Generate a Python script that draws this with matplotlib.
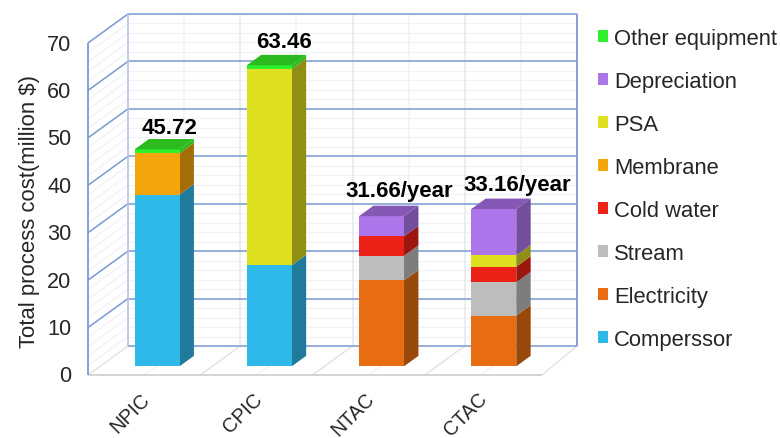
import matplotlib
matplotlib.use('Agg')
import matplotlib.pyplot as plt
from matplotlib.patches import Polygon, Patch
from matplotlib.transforms import ScaledTranslation
import numpy as np

plt.rcParams['font.family'] = ['Liberation Sans', 'DejaVu Sans']

cases = ['NPIC', 'CPIC', 'NTAC', 'CTAC']
compressor = [36.2, 21.3, 0, 0]
electricity = [0, 0, 18.1, 10.7]
stream = [0, 0, 5.2, 7.0]
cold_water = [0, 0, 4.1, 3.3]
membrane = [8.7, 0, 0, 0]
psa = [0, 41.4, 0, 2.4]
depreciation = [0, 0, 4.26, 9.76]
other = [0.82, 0.76, 0, 0]
bar_labels = ['45.72', '63.46', '31.66/year', '33.16/year']
# nudges of the total labels from the back top edge of the box, in pixels
label_dx = [-2, 0, 3, 9]
label_dy = [11, 13, 15, 14]

# bottom to top of the stack: name, values, front, side
stack = [
    ('Comperssor', compressor, '#2FB8EA', '#1F7A9C'),
    ('Electricity', electricity, '#E86C12', '#99480C'),
    ('Stream', stream, '#BDBDBD', '#7D7D7D'),
    ('Cold water', cold_water, '#EC2218', '#9C1610'),
    ('Membrane', membrane, '#F5A60D', '#A36E08'),
    ('PSA', psa, '#DFE020', '#8F8F15'),
    ('Depreciation', depreciation, '#AD75EA', '#734E9C'),
    ('Other equipment', other, '#2EF02E', '#2BBB1F'),
]
top_colors = {'Other equipment': '#2BBB1F', 'Depreciation': '#8558B5'}
legend_order = ['Other equipment', 'Depreciation', 'PSA', 'Membrane',
                'Cold water', 'Stream', 'Electricity', 'Comperssor']

W, H = 780, 439
fig = plt.figure(figsize=(W / 100, H / 100), dpi=100)
ax = fig.add_axes([88 / W, 1 - 376 / H, 449 / W, (376 - 44) / H])
ax.set_xlim(-0.5, 3.5)
ax.set_ylim(0, 70)

# depth of the floor in data units
cat_px = 449 / 4
depth_x = 40 / cat_px
depth_y = 29 / 4.743


def pr(x, y, d=0.0):
    return (x + d * depth_x, y + d * depth_y)


def line(p0, p1, color, lw=1.0, z=1):
    ax.plot([p0[0], p1[0]], [p0[1], p1[1]], color=color, lw=lw, zorder=z,
            clip_on=False, solid_capstyle='butt')


blue = '#7C9AD2'
faint = '#F1F2F5'
x0, x1 = -0.5, 3.5
floor_end = x1 + 5 / cat_px

# faint minor lines on back wall and left wall
for v in np.arange(0, 71, 2):
    line(pr(x0, v, 1), pr(x1, v, 1), faint, 0.9)
    line(pr(x0, v, 0), pr(x0, v, 1), faint, 0.9)
for c in np.arange(-0.5, 3.6, 0.5):
    major = (c + 0.5) % 1 == 0
    line(pr(c, 0, 1), pr(c, 70, 1), '#E6E8EE' if major else '#F1F2F5', 1.1)

# floor
for c in np.arange(0.0, 3.1, 0.5):
    major = (c + 0.5) % 1 == 0
    line(pr(c, 0, 0), pr(c, 0, 1), '#E2E2E2' if major else '#F2F2F2', 1.0)
line(pr(floor_end, 0, 0), pr(x1, 0, 1), '#E2E2E2', 1.0)
line(pr(x0, 0, 0), pr(floor_end, 0, 0), '#D4D4D4', 1.4, 2)
line(pr(x0, 0, 0), pr(x0, 0, 1), '#E4E4E4', 1.0)

# major lines
for v in np.arange(0, 71, 10):
    line(pr(x0, v, 1), pr(x1, v, 1), blue, 1.1, 2)
    if v > 0:
        line(pr(x0, v, 0), pr(x0, v, 1), blue, 1.1, 2)
line(pr(x0, 0, 0), pr(x0, 70, 0), blue, 1.3, 2)
line(pr(x0, 0, 1), pr(x0, 70, 1), '#B4C4E4', 1.1, 2)
line(pr(x1, 0, 1), pr(x1, 70, 1), blue, 1.3, 2)

# the boxes
bar_w = 45 / cat_px
d_front = 0.3
d_back = 0.66
for i in range(len(cases)):
    xl = i - bar_w / 2 + 0.008
    xr = i + bar_w / 2 + 0.008
    base = 0.0
    last = None
    for name, vals, front, side in stack:
        v = vals[i]
        if v == 0:
            continue
        top = base + v
        ax.add_patch(Polygon([pr(xr, base, d_front), pr(xr, base, d_back),
                              pr(xr, top, d_back), pr(xr, top, d_front)],
                             closed=True, fc=side, ec='none', zorder=4, clip_on=False))
        ax.add_patch(Polygon([pr(xl, base, d_front), pr(xr, base, d_front),
                              pr(xr, top, d_front), pr(xl, top, d_front)],
                             closed=True, fc=front, ec='none', zorder=5, clip_on=False))
        base = top
        last = name
    ax.add_patch(Polygon([pr(xl, base, d_front), pr(xr, base, d_front),
                          pr(xr, base, d_back), pr(xl, base, d_back)],
                         closed=True, fc=top_colors[last], ec='none', zorder=5, clip_on=False))
    ax.annotate(bar_labels[i], pr(i, base, 0.68),
                xytext=(label_dx[i] * 0.72, label_dy[i] * 0.72), textcoords='offset points',
                ha='center', va='center', fontsize=16, fontweight='bold', color='black',
                zorder=6, annotation_clip=False)

for s in ax.spines.values():
    s.set_visible(False)
ax.patch.set_visible(False)

ax.set_yticks(np.arange(0, 71, 10))
ax.set_xticks(range(len(cases)))
ax.set_xticklabels(cases, rotation=45, ha='right', rotation_mode='anchor')
ax.tick_params(axis='y', length=0, pad=12, labelsize=15.6, labelcolor='#262626')
ax.tick_params(axis='x', length=0, pad=10, labelsize=14.2, labelcolor='#262626')
ax.set_ylabel('Total process cost(million $)', fontsize=15.9, color='#262626', labelpad=5, y=0.495)

for lab in ax.get_yticklabels():
    lab.set_transform(lab.get_transform() + ScaledTranslation(0, 1.5 / 100, fig.dpi_scale_trans))
for lab in ax.get_xticklabels():
    lab.set_transform(lab.get_transform() + ScaledTranslation(-4 / 100, 0, fig.dpi_scale_trans))

by_name = {s[0]: s[2] for s in stack}
handles = [Patch(fc=by_name[n], ec='none', label=n) for n in legend_order]
leg = fig.legend(handles=handles, loc='upper left', bbox_to_anchor=(598 / W, 1 - 29 / H),
                 frameon=False, fontsize=15.8, labelspacing=1.0, handlelength=0.45,
                 handleheight=0.45, handletextpad=0.27, borderpad=0, borderaxespad=0,
                 labelcolor='#262626')

fig.savefig('out.png', dpi=100)
